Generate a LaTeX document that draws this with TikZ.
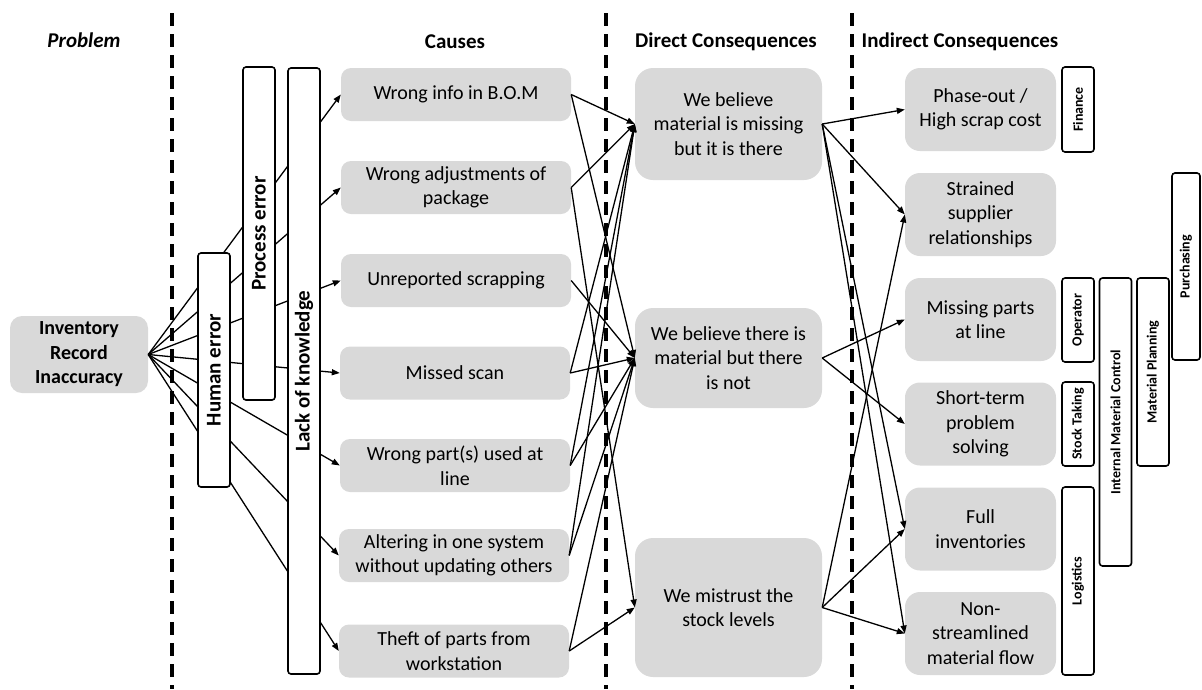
\documentclass[tikz,border=0pt]{standalone}
\usepackage{fontspec}
\setmainfont{Carlito}
\usetikzlibrary{arrows.meta}
\definecolor{boxgray}{HTML}{D9D9D9}
\begin{document}
\begin{tikzpicture}[x=1pt,y=-1pt,
  txt/.style={font=\fontsize{20}{24.5}\selectfont},
  head/.style={font=\fontsize{21}{25}\selectfont\bfseries, inner sep=0pt},
  gbox/.style={fill=boxgray, draw=none, inner sep=0pt, align=center, txt},
  cbox/.style={gbox, rounded corners=10pt, minimum width=230pt, minimum height=53pt},
  dbox/.style={gbox, rounded corners=18pt, minimum width=187pt},
  ibox/.style={gbox, rounded corners=15pt, minimum width=151pt, minimum height=83pt},
  bar/.style={draw, line width=1.6pt, fill=white, rounded corners=3pt, inner sep=0pt,
              rotate=90, minimum height=32pt, font=\fontsize{21}{25}\selectfont\bfseries},
  fbar/.style={bar, font=\fontsize{14}{17}\selectfont\bfseries},
  conn/.style={line width=1.3pt, -{Triangle[length=8pt,width=6pt]}},
  divider/.style={line width=3.5pt, dash pattern=on 13pt off 8pt}
]
\useasboundingbox (0,0) rectangle (1202,689);

% dividers
\coordinate (v1t) at (172,13); \coordinate (v1b) at (172,689);
\coordinate (v2t) at (606,13); \coordinate (v2b) at (606,689);
\coordinate (v3t) at (852,13); \coordinate (v3b) at (852,689);
\draw[divider] (v1t) -- (v1b);
\draw[divider] (v2t) -- (v2b);
\draw[divider] (v3t) -- (v3b);

% headers
\node[head, font=\fontsize{21}{25}\selectfont\bfseries\itshape] (hp) at (84,40) {Problem};
\node[head] (hc) at (455,42) {Causes};
\node[head] (hd) at (726,42) {Direct Consequences};
\node[head] (hi) at (960,42) {Indirect Consequences};

% problem
\node[gbox, rounded corners=12pt, minimum width=138pt, minimum height=77pt,
      font=\fontsize{20}{24.5}\selectfont\bfseries] (inv) at (79,354.5)
      {Inventory\\Record\\Inaccuracy};

% causes
\node[cbox] (c1) at (456,94.5) {Wrong info in B.O.M};
\node[cbox] (c2) at (456,187.5) {Wrong adjustments of\\package};
\node[cbox] (c3) at (456,280.5) {Unreported scrapping};
\node[cbox] (c4) at (455,373) {Missed scan};
\node[cbox] (c5) at (455,465.5) {Wrong part(s) used at\\line};
\node[cbox] (c6) at (454,555.5) {Altering in one system\\without updating others};
\node[cbox] (c7) at (454,651) {Theft of parts from\\workstation};

% direct consequences
\node[dbox, minimum height=112pt] (d1) at (728.5,124) {We believe\\material is missing\\but it is there};
\node[dbox, minimum height=100pt] (d2) at (728.5,358) {We believe there is\\material but there\\is not};
\node[dbox, minimum height=139pt] (d3) at (728.5,607.5) {We mistrust the\\stock levels};

% indirect consequences
\node[ibox] (i1) at (980.5,109.5) {Phase-out /\\High scrap cost};
\node[ibox] (i2) at (980.5,214.5) {Strained\\supplier\\relationships};
\node[ibox] (i3) at (980.5,319.5) {Missing parts\\at line};
\node[ibox] (i4) at (980.5,424) {Short-term\\problem\\solving};
\node[ibox] (i5) at (980.5,529) {Full\\inventories};
\node[ibox] (i6) at (980.5,633.5) {Non-\\streamlined\\material flow};

% fan from problem to causes
\foreach \c in {c1,c2,c3,c4,c5,c6,c7}
  \draw[conn] (inv.east) -- (\c.west);

% bars on top
\node[bar, minimum width=234pt] (he) at (214,370) {Human error};
\node[bar, minimum width=333pt] (pe) at (259,233.5) {Process error};
\node[bar, minimum width=606pt] (lk) at (304,371) {Lack of knowledge};

% causes to direct consequences
\draw[conn] (c1.east) -- (d1.west);
\draw[conn] (c1.east) -- (d2.west);
\draw[conn] (c2.east) -- (d1.west);
\draw[conn] (c2.east) -- (d3.west);
\draw[conn] (c3.east) -- (d2.west);
\draw[conn] (c4.east) -- (d1.west);
\draw[conn] (c4.east) -- (d2.west);
\draw[conn] (c5.east) -- (d1.west);
\draw[conn] (c5.east) -- (d2.west);
\draw[conn] (c6.east) -- (d1.west);
\draw[conn] (c6.east) -- (d2.west);
\draw[conn] (c7.east) -- (d2.west);
\draw[conn] (c7.east) -- (d3.west);

% direct to indirect
\draw[conn] (d1.east) -- (i1.west);
\draw[conn] (d1.east) -- (i2.west);
\draw[conn] (d1.east) -- (i5.west);
\draw[conn] (d1.east) -- (i6.west);
\draw[conn] (d2.east) -- (i3.west);
\draw[conn] (d2.east) -- (i4.west);
\draw[conn] (d3.east) -- (i2.west);
\draw[conn] (d3.east) -- (i5.west);
\draw[conn] (d3.east) -- (i6.west);

% functions
\node[fbar, minimum width=85pt] (fin) at (1078,109.5) {Finance};
\node[fbar, minimum width=84pt] (op) at (1078,320) {Operator};
\node[fbar, minimum width=84pt] (st) at (1078,424) {Stock Taking};
\node[fbar, minimum width=188pt] (lg) at (1078,581) {Logistics};
\node[fbar, minimum width=288pt] (imc) at (1115.5,422) {Internal Material Control};
\node[fbar, minimum width=188pt] (mp) at (1153,372) {Material Planning};
\node[fbar, minimum width=187pt, minimum height=28pt] (pu) at (1186,266.5) {Purchasing};
\end{tikzpicture}
\end{document}
